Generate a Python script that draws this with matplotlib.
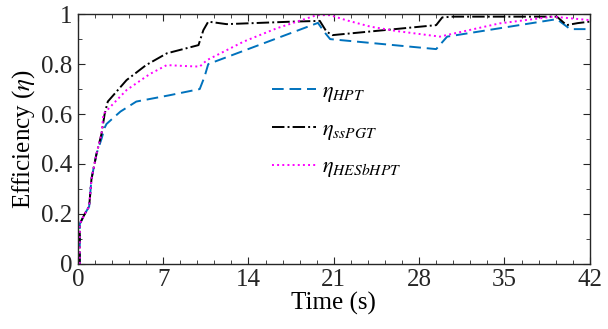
import numpy as np
import matplotlib
matplotlib.use('Agg')
import matplotlib.pyplot as plt
from matplotlib.ticker import MultipleLocator

plt.rcParams['font.family'] = ['Liberation Serif', 'DejaVu Serif']
plt.rcParams['mathtext.fontset'] = 'stix'

# eta_HPT
t_hpt = [0.16, 0.16, 0.57, 0.93, 1.12, 1.53, 1.94, 2.2, 2.35, 2.76, 3.5, 4.8, 7.5, 10.0,
         10.4, 10.7, 19.7, 20.2, 20.7, 29.4, 30.3, 39.3, 40.4, 42.0]
v_hpt = [0.0, 0.16, 0.2, 0.23, 0.34, 0.44, 0.50, 0.545, 0.56, 0.578, 0.61, 0.65, 0.675, 0.70,
         0.75, 0.80, 0.965, 0.93, 0.90, 0.86, 0.91, 0.98, 0.94, 0.94]

# eta_ssPGT
t_pgt = [0.16, 0.16, 0.57, 0.93, 1.12, 1.53, 1.94, 2.2, 2.46, 4.0, 5.6, 7.3, 9.9, 10.3, 10.7,
         12.2, 17.6, 19.85, 20.4, 20.9, 29.4, 29.9, 30.8, 39.3, 40.1, 41.0, 42.0]
v_pgt = [0.0, 0.16, 0.2, 0.23, 0.34, 0.44, 0.52, 0.6, 0.65, 0.736, 0.796, 0.843, 0.876, 0.936, 0.97,
         0.96, 0.97, 0.973, 0.93, 0.916, 0.956, 0.987, 0.99, 0.99, 0.956, 0.964, 0.97]

# eta_HESbHPT
t_hes = [0.16, 0.16, 0.57, 0.93, 1.12, 1.53, 1.94, 2.1, 3.2, 4.0, 5.9, 7.3, 8.9, 10.0, 10.6,
         13.6, 16.3, 19.6, 20.7, 22.0, 24.0, 26.2, 29.7, 30.8, 34.6, 39.0, 42.0]
v_hes = [0.0, 0.16, 0.2, 0.23, 0.34, 0.44, 0.52, 0.6, 0.656, 0.696, 0.76, 0.796, 0.792, 0.79, 0.816,
         0.89, 0.943, 0.996, 0.996, 0.976, 0.95, 0.932, 0.91, 0.922, 0.963, 0.99, 0.976]

fig = plt.figure(figsize=(6.08, 3.29), dpi=100)
ax = fig.add_axes([0.128, 0.198, 0.842, 0.759])

ax.plot(t_hpt, v_hpt, '--', color='#0072BD', lw=1.4, dashes=(6, 3), label=r'$\eta_{HPT}$')
ax.plot(t_pgt, v_pgt, '-.', color='k', lw=1.4, label=r'$\eta_{ssPGT}$')
ax.plot(t_hes, v_hes, ':', color='#FF00FF', lw=1.4, label=r'$\eta_{HESbHPT}$')

ax.set_xlim(0, 42)
ax.set_ylim(0, 1)
ax.xaxis.set_major_locator(MultipleLocator(7))
ax.xaxis.set_minor_locator(MultipleLocator(1.4))
ax.yaxis.set_minor_locator(MultipleLocator(0.1))
ax.set_yticks([0, 0.2, 0.4, 0.6, 0.8, 1.0])
ax.set_yticklabels(['0', '0.2', '0.4', '0.6', '0.8', '1'])
ax.tick_params(which='both', direction='in', top=True, right=True, labelsize=18, colors='#262626')
ax.tick_params(which='major', length=5, pad=4)
ax.tick_params(which='minor', length=3)
for s in ax.spines.values():
    s.set_color('#262626')
    s.set_linewidth(1.0)

ax.set_xlabel('Time (s)', fontsize=18, labelpad=0)
ax.set_ylabel(r'Efficiency ($\eta$)', fontsize=18, labelpad=3)

ax.legend(loc='upper left', bbox_to_anchor=(0.34, 0.81), frameon=False, fontsize=16,
          handlelength=2.0, handletextpad=0.25, labelspacing=0.68)

fig.savefig('out.png', dpi=100)
